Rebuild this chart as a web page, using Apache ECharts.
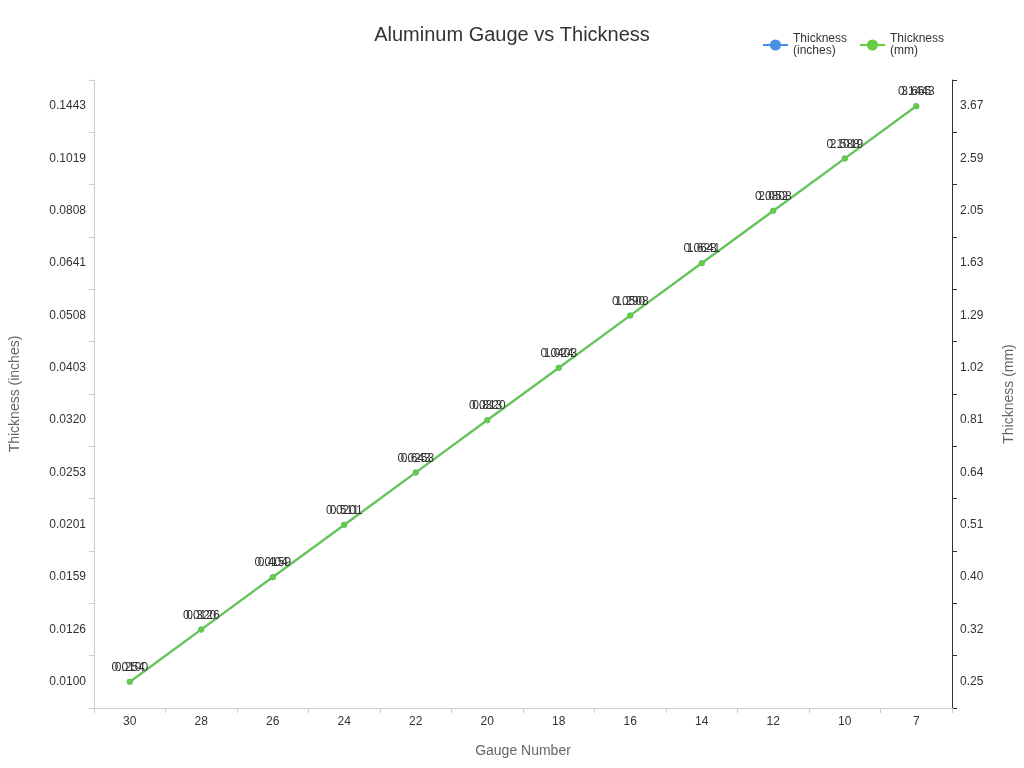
<!DOCTYPE html>
<html>
<head>
<meta charset="utf-8">
<script src="https://cdn.jsdelivr.net/npm/echarts@6/dist/echarts.min.js"></script>
<style>html,body{margin:0;padding:0;}#chart{width:1024px;height:768px;}</style>
</head>
<body>
<div id="chart"></div>
<script>
const gauges = ['30', '28', '26', '24', '22', '20', '18', '16', '14', '12', '10', '7'];
const inches = ['0.0100', '0.0126', '0.0159', '0.0201', '0.0253', '0.0320', '0.0403', '0.0508', '0.0641', '0.0808', '0.1019', '0.1443'];
const mm = ['0.254', '0.320', '0.404', '0.511', '0.643', '0.813', '1.024', '1.290', '1.628', '2.052', '2.588', '3.665'];
const mmTicks = ['0.25', '0.32', '0.40', '0.51', '0.64', '0.81', '1.02', '1.29', '1.63', '2.05', '2.59', '3.67'];

var myChart = echarts.init(document.getElementById('chart'));
var option = {
  title: {
    text: 'Aluminum Gauge vs Thickness',
    left: 'center',
    top: 20,
    textStyle: { fontSize: 20, fontWeight: 'normal', color: '#333' }
  },
  legend: {
    right: 75,
    top: 28,
    itemGap: 12,
    textStyle: { fontSize: 12, color: '#333' },
    data: ['Thickness\n(inches)', 'Thickness\n(mm)']
  },
  grid: { left: 88, right: 72, top: 80, bottom: 60 },
  xAxis: {
    type: 'category',
    data: gauges,
    name: 'Gauge Number',
    nameLocation: 'middle',
    nameGap: 36,
    nameTextStyle: { fontSize: 14, color: '#666' },
    axisLine: { lineStyle: { color: '#ccc' } },
    axisTick: { show: true, lineStyle: { color: '#ccc' } },
    axisLabel: { color: '#333' }
  },
  yAxis: [
    {
      type: 'category',
      data: inches,
      name: 'Thickness (inches)',
      nameLocation: 'middle',
      nameGap: 72,
      nameTextStyle: { fontSize: 14, color: '#666' },
      axisLine: { show: true, lineStyle: { color: '#ccc' } },
      axisTick: { show: true, lineStyle: { color: '#ccc' } },
      axisLabel: { color: '#333' },
      splitLine: { show: false }
    },
    {
      type: 'category',
      data: mmTicks,
      name: 'Thickness (mm)',
      nameLocation: 'middle',
      nameGap: 50,
      nameTextStyle: { fontSize: 14, color: '#666' },
      axisLine: { show: true, lineStyle: { color: '#333' } },
      axisTick: { show: true, lineStyle: { color: '#333' } },
      axisLabel: { color: '#333' },
      splitLine: { show: false }
    }
  ],
  series: [
    {
      name: 'Thickness\n(inches)',
      type: 'line',
      yAxisIndex: 0,
      data: inches.map((v, i) => [gauges[i], v]),
      color: '#4a90e2',
      symbol: 'circle',
      symbolSize: 6,
      lineStyle: { width: 2 },
      label: { show: true, position: 'top', color: '#333', formatter: p => inches[p.dataIndex] }
    },
    {
      name: 'Thickness\n(mm)',
      type: 'line',
      yAxisIndex: 1,
      data: mmTicks.map((v, i) => [gauges[i], v]),
      color: '#67cc45',
      symbol: 'circle',
      symbolSize: 6,
      lineStyle: { width: 2 },
      label: { show: true, position: 'top', color: '#333', formatter: p => mm[p.dataIndex] }
    }
  ]
};
myChart.setOption(option);
window.addEventListener('resize', myChart.resize);
</script>
</body>
</html>
